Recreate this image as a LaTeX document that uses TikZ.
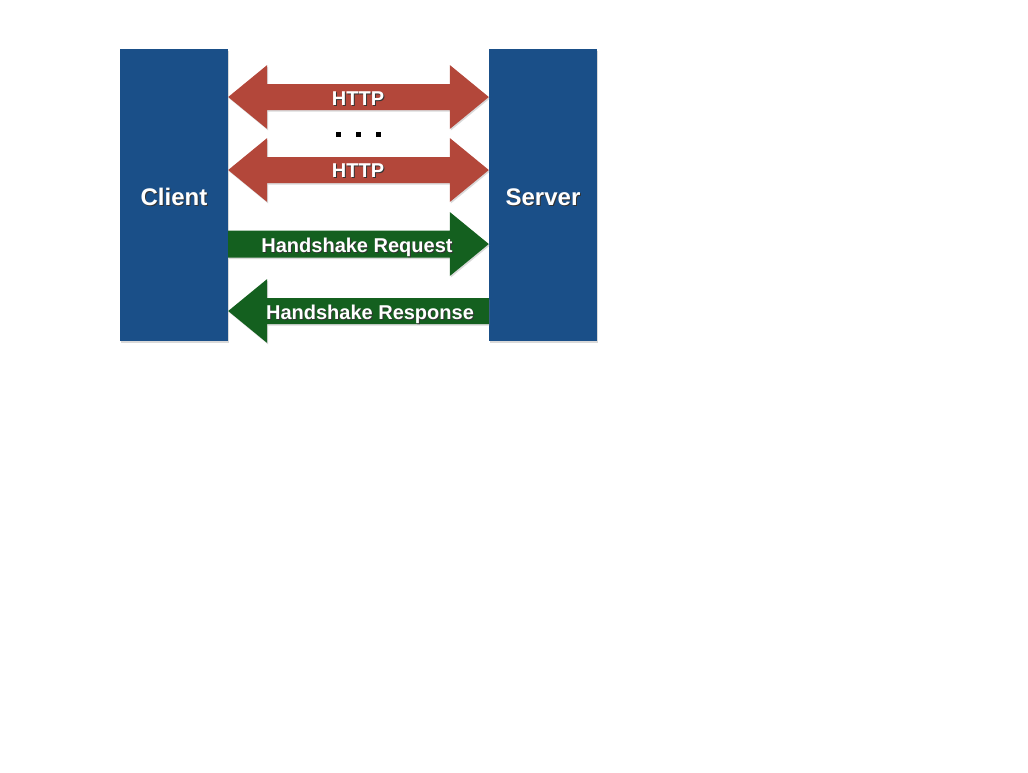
\documentclass[tikz,border=0pt]{standalone}
\usepackage{fontspec}
\setmainfont{Liberation Sans}
\usetikzlibrary{calc, shadows}
\definecolor{boxblue}{HTML}{1A4F88}
\definecolor{httpred}{HTML}{B3473A}
\definecolor{shakegreen}{HTML}{14601F}
\newcommand{\shadowtext}[1]{\makebox[0pt][l]{\kern1pt\raisebox{-1pt}{\color{black!80}#1}}#1}
\tikzstyle{fatshadow} = [drop shadow={shadow xshift=1pt, shadow yshift=-1.5pt, opacity=0.3}]
\tikzstyle{box} = [rectangle, fill=boxblue, minimum width=108pt, minimum height=292pt, text=white, font=\fontsize{24}{28}\selectfont\bfseries, fatshadow]
\tikzstyle{arrowtext} = [text=white, font=\fontsize{20}{24}\selectfont\bfseries, inner sep=0pt, anchor=base]

\begin{document}
\begin{tikzpicture}[x=1pt, y=-1pt]
		\useasboundingbox (0,0) rectangle (1028,772);
		%两端
		\node (client) [box] at (174,195) {};
		\node (server) [box] at (543,195) {};
		\node (clienttext) [arrowtext, font=\fontsize{24}{28}\selectfont\bfseries] at (client.center |- 0,205) {\shadowtext{Client}};
		\node (servertext) [arrowtext, font=\fontsize{24}{28}\selectfont\bfseries] at (server.center |- 0,205) {\shadowtext{Server}};
		
		%每一行的高度
		\coordinate (row1) at (358,97);
		\coordinate (row2) at (358,170);
		\coordinate (row3) at (358,244);
		\coordinate (row4) at (358,311);
		
		%HTTP 双向箭头
		\fill [httpred, fatshadow] (client.east |- row1) -- ++(39,-32) -- ++(0,19) -- ($(server.west |- row1)+(-39,-13)$) -- ++(0,-19) -- (server.west |- row1) -- ++(-39,32) -- ++(0,-19) -- ($(client.east |- row1)+(39,13)$) -- ++(0,19) -- cycle;
		\fill [httpred, fatshadow] (client.east |- row2) -- ++(39,-32) -- ++(0,19) -- ($(server.west |- row2)+(-39,-13)$) -- ++(0,-19) -- (server.west |- row2) -- ++(-39,32) -- ++(0,-19) -- ($(client.east |- row2)+(39,13)$) -- ++(0,19) -- cycle;
		\foreach \x in {338,358,378}
			\fill (\x-2.5,131.5) rectangle ++(5,5);
		
		%握手
		\fill [shakegreen, fatshadow] ($(client.east |- row3)+(0,-13.5)$) -- ($(server.west |- row3)+(-39,-13.5)$) -- ++(0,-18.5) -- (server.west |- row3) -- ++(-39,32) -- ++(0,-18.5) -- ($(client.east |- row3)+(0,13.5)$) -- cycle;
		\fill [shakegreen, fatshadow] (client.east |- row4) -- ++(39,-32) -- ++(0,19) -- ($(server.west |- row4)+(0,-13)$) -- ++(0,26) -- ($(client.east |- row4)+(39,13)$) -- ++(0,19) -- cycle;
		
		%文字
		\node (http1) [arrowtext] at (358,105) {\shadowtext{HTTP}};
		\node (http2) [arrowtext] at (358,177) {\shadowtext{HTTP}};
		\node (request) [arrowtext] at (357,252) {\shadowtext{Handshake Request}};
		\node (response) [arrowtext] at (370,319) {\shadowtext{Handshake Response}};
	\end{tikzpicture}
\end{document}
